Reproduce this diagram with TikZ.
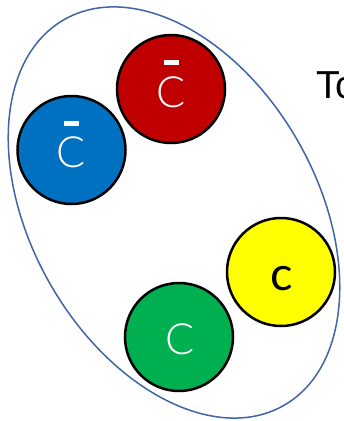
\documentclass[tikz,border=0pt]{standalone}
\usepackage{fontspec}
\setmainfont{Liberation Sans}
\newfontfamily\thinfont{Lato Light}
\newfontfamily\regfont{Lato}
\definecolor{qred}{HTML}{C00000}
\definecolor{qblue}{HTML}{0070C0}
\definecolor{qyellow}{HTML}{FFFF00}
\definecolor{qgreen}{HTML}{00B050}
\definecolor{ellblue}{HTML}{4064A8}
\tikzset{
  quark/.style={circle, draw=black, line width=2.5pt, minimum size=108pt, inner sep=0pt},
  wlabel/.style={text=white, font=\thinfont\fontsize{43}{43}\selectfont, inner sep=0pt},
  blabel/.style={text=black, font=\regfont\fontsize{47}{47}\selectfont, inner sep=0pt},
  barmark/.style={fill=white, draw=none, minimum width=15pt, minimum height=5pt, inner sep=0pt}
}
\begin{document}
\begin{tikzpicture}[x=1pt,y=1pt]
\useasboundingbox (0,0) rectangle (344,-421);
\clip (0,0) rectangle (344,-421);
\fill[white] (0,0) rectangle (344,-421);
\draw[ellblue, line width=1.5pt, rotate around={-60.4:(174,-212.5)}] (174,-212.5) ellipse [x radius=222, y radius=143];
\node[quark, fill=qred] (red) at (171,-89) {};
\node[quark, fill=qblue] (blue) at (71.5,-150) {};
\node[quark, fill=qyellow] (yellow) at (281,-272) {};
\node[quark, fill=qgreen] (green) at (179,-337) {};
\node[wlabel] (redc) at (171,-92) {C};
\node[barmark] (redbar) at (171,-62.5) {};
\node[wlabel] (bluec) at (71.5,-152) {C};
\node[barmark] (bluebar) at (71.5,-123) {};
\node[wlabel] (greenc) at (180,-339) {C};
\node[blabel] (yellowc) at (281.5,-279) {c};
\node[anchor=base west, inner sep=0pt, font=\fontsize{39}{39}\selectfont, text=black] (title) at (316,-98) {Tc};
\end{tikzpicture}
\end{document}
